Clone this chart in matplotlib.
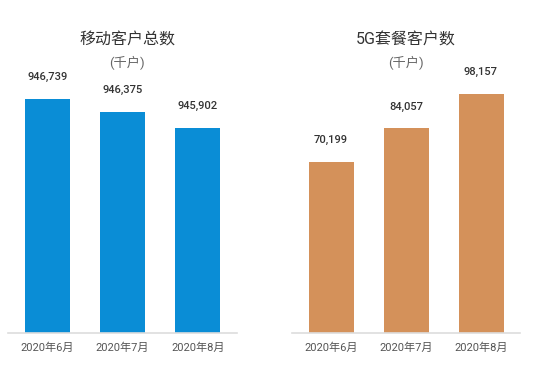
import matplotlib
matplotlib.use("Agg")
import matplotlib.pyplot as plt

plt.rcParams['font.family'] = ['Roboto', 'Noto Sans CJK SC', 'DejaVu Sans']

# data
months = ["2020年6月", "2020年7月", "2020年8月"]
mobile_total = [946739, 946375, 945902]
g5_total = [70199, 84057, 98157]

titles = ["移动客户总数", "5G套餐客户数"]
unit = "(千户)"

W, H = 545, 372
fig = plt.figure(figsize=(W / 100, H / 100), dpi=100)

def px_axes(x0, x1, y_top, y_bot):
    return fig.add_axes([x0 / W, 1 - y_bot / H, (x1 - x0) / W, (y_bot - y_top) / H])

panels = [
    (px_axes(8, 237, 73, 333), mobile_total, "#0A8DD6", (940000, 947490), titles[0], 127),
    (px_axes(292, 520, 73, 333), g5_total, "#D4915A", (0, 106780), titles[1], 406),
]

for ax, vals, color, ylim, title, cx in panels:
    x = range(len(months))
    ax.bar(x, vals, width=0.6, color=color, zorder=2)
    ax.set_xlim(-0.52, 2.52)
    ax.set_ylim(*ylim)
    ax.set_xticks(list(x))
    ax.set_xticklabels(months, fontsize=8, color="#555555")
    ax.tick_params(axis="x", length=0, pad=7)
    ax.set_yticks([])
    for s in ["top", "right", "left"]:
        ax.spines[s].set_visible(False)
    ax.spines["bottom"].set_color("#dddddd")
    ax.spines["bottom"].set_linewidth(1.2)
    for i, v in enumerate(vals):
        ax.annotate(f"{v:,}", (i, v), xytext=(0, 12), textcoords="offset points",
                    ha="center", va="bottom", fontsize=8, fontweight="medium",
                    color="#333333")
    fig.text(cx / W, 1 - 40 / H, title, ha="center", va="center",
             fontsize=11.5, color="#333333")
    fig.text(cx / W, 1 - 63 / H, unit, ha="center", va="center",
             fontsize=9.5, color="#666666")

fig.savefig("out.png", dpi=100, facecolor="white")
